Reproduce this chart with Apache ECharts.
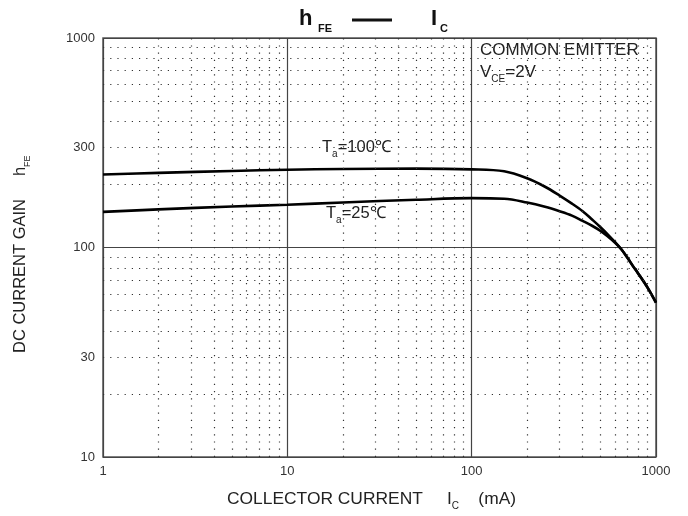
<!DOCTYPE html>
<html><head><meta charset="utf-8">
<script src="https://cdn.jsdelivr.net/npm/echarts@6/dist/echarts.min.js"></script>
<style>html,body{margin:0;background:#fff}#c{width:688px;height:516px}</style></head>
<body><div id="c"></div>
<script>
// Collector current (mA)
const current = [1, 2, 5, 10, 20, 50, 100, 150, 200, 250, 300, 350, 400, 450, 500, 550, 600, 650, 700, 750, 800, 900, 1000];
// hFE at Ta = 100 degC
const hfe100 = [223, 227, 232, 235, 237, 238, 236, 231, 214, 195, 177, 162, 149, 136, 125, 115, 106, 97.8, 89.3, 81.5, 75.2, 64.3, 54.5];
// hFE at Ta = 25 degC
const hfe25 = [148, 152, 157, 160, 164, 169, 172, 171, 164, 156.5, 149, 142, 134, 127, 120, 112.5, 105.3, 97.8, 89.3, 81.5, 75.2, 64.3, 54.5];
// tick labels
const xTickLabels = ['1', '10', '100', '1000'];
const yTickLabels = ['10', '30', '100', '300', '1000'];
// minor (dotted) grid values
const xMinor = [2,3,4,5,6,7,8,9,20,30,40,50,60,70,80,90,200,300,400,500,600,700,800,900];
const yMinor = [20,30,40,50,60,70,80,90,200,300,400,500,600,700,800,900];

const FONT = 'Liberation Sans, Arial, sans-serif';
const chart = echarts.init(document.getElementById('c'));
const dotted = {color: '#333', width: 1.2, type: [1.2, 6]};

function subText(parts, size, subSize, lh, bg) {
  const rich = {
    m: {font: size + 'px ' + FONT, fill: '#222', verticalAlign: 'top', lineHeight: lh},
    s: {font: subSize + 'px ' + FONT, fill: '#222', verticalAlign: 'bottom', lineHeight: lh}
  };
  if (bg) { rich.m.backgroundColor = '#fff'; rich.s.backgroundColor = '#fff'; }
  return {text: parts, rich: rich};
}

chart.setOption({
  animation: false,
  backgroundColor: '#fff',
  grid: {left: 103, right: 32, top: 38, bottom: 59, show: true, borderColor: '#555', borderWidth: 1.5},
  xAxis: {
    type: 'log', logBase: 10, min: 1, max: 1000,
    axisLine: {show: false}, axisTick: {show: false},
    axisLabel: {fontFamily: FONT, fontSize: 13, color: '#333', margin: 8,
      formatter: v => xTickLabels.includes(String(v)) ? String(v) : ''},
    splitLine: {show: true, lineStyle: {color: '#444', width: 1.2}}
  },
  yAxis: {
    type: 'log', logBase: 10, min: 10, max: 1000,
    axisLine: {show: false}, axisTick: {show: false},
    axisLabel: {fontFamily: FONT, fontSize: 13, color: '#333', margin: 8,
      formatter: v => yTickLabels.includes(String(v)) ? String(v) : ''},
    splitLine: {show: true, lineStyle: {color: '#444', width: 1.2}}
  },
  series: [
    {
      type: 'line', name: 'grid', data: [], silent: true,
      markLine: {
        silent: true, symbol: 'none', animation: false,
        lineStyle: dotted,
        label: {show: false},
        data: xMinor.map(v => ({xAxis: v}))
          .concat(yMinor.map(v => {
            const lbl = yTickLabels.includes(String(v));
            return {yAxis: v, label: lbl ? {show: true, position: 'start', formatter: String(v),
              fontFamily: FONT, fontSize: 13, color: '#333', distance: 8} : {show: false}};
          }))
      }
    },
    {
      type: 'line', name: 'Ta=100', smooth: 0.35, symbol: 'none',
      data: current.map((c, i) => [c, hfe100[i]]),
      lineStyle: {color: '#000', width: 2.6}
    },
    {
      type: 'line', name: 'Ta=25', smooth: 0.35, symbol: 'none',
      data: current.map((c, i) => [c, hfe25[i]]),
      lineStyle: {color: '#000', width: 2.6}
    }
  ],
  graphic: [
    // title
    {type: 'text', left: 299, top: 8, style: {text: 'h', font: 'bold 22px ' + FONT, fill: '#111'}},
    {type: 'text', left: 318, top: 23, style: {text: 'FE', font: 'bold 11px ' + FONT, fill: '#111'}},
    {type: 'line', shape: {x1: 352, y1: 20, x2: 392, y2: 20}, style: {stroke: '#111', lineWidth: 3}},
    {type: 'text', left: 431, top: 8, style: {text: 'I', font: 'bold 22px ' + FONT, fill: '#111'}},
    {type: 'text', left: 440, top: 23, style: {text: 'C', font: 'bold 11px ' + FONT, fill: '#111'}},
    // common emitter box
    {type: 'rect', shape: {x: 474, y: 40, width: 176, height: 44}, style: {fill: '#fff'}},
    {type: 'text', left: 480, top: 42, style: {text: 'COMMON EMITTER', font: '17px ' + FONT, fill: '#222'}},
    {type: 'text', left: 480, top: 64, style: subText('{m|V}{s|CE}{m|=2V}', 17, 10, 20, false)},
    // curve labels
    {type: 'text', left: 322, top: 139, style: subText('{m|T}{s|a}{m|=100℃}', 16.5, 10, 20, true)},
    {type: 'text', left: 326, top: 205, style: subText('{m|T}{s|a}{m|=25℃}', 16.5, 10, 20, true)},
    // x axis name
    {type: 'text', left: 227, top: 491, style: subText('{m|COLLECTOR CURRENT     I}{s|C}{m|    (mA)}', 17.4, 10, 20, false)},
    // y axis name
    {type: 'text', x: 12, y: 353, rotation: Math.PI / 2, style: subText('{m|DC CURRENT GAIN     h}{s|FE}', 16.5, 9, 20, false)}
  ]
});
</script></body></html>
